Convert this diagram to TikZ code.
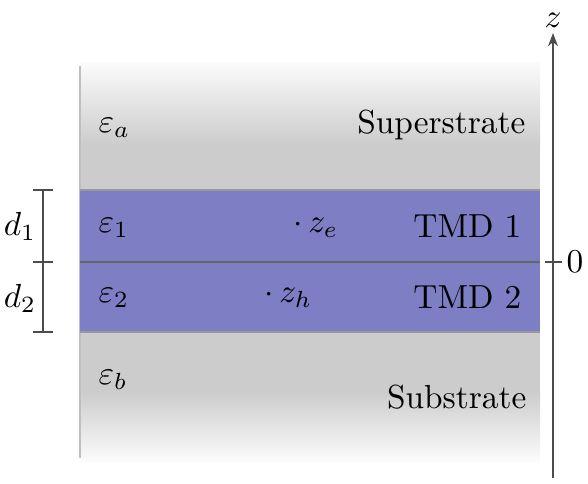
\documentclass[tikz,border=0pt]{standalone}
\usetikzlibrary{arrows.meta}
\definecolor{tmd}{RGB}{126,126,196}
\definecolor{bg}{RGB}{204,204,204}
\tikzset{
  lbl/.style={inner sep=0pt,font=\normalsize},
  edge/.style={draw=black!40,line width=0.4pt},
  dimline/.style={draw=black!70,line width=0.4pt},
}
\begin{document}
\begin{tikzpicture}[x=0.3pt,y=-0.3pt]
\useasboundingbox (0,0) rectangle (588,483);
% gray superstrate / substrate
\shade[top color=white!92!bg, bottom color=bg] (80,62) rectangle (540,145);
\fill[bg] (80,144) rectangle (540,191);
\fill[bg] (80,331) rectangle (540,392);
\shade[top color=bg, bottom color=white!94!bg] (80,391) rectangle (540,462);
\draw[edge,draw=black!25] (80,66) -- (80,458);
% TMD layers
\fill[tmd] (80,190) rectangle (540,332);
\draw[edge] (80,190) -- (540,190);
\draw[edge] (80,332) -- (540,332);
\draw[draw=black!60,line width=0.5pt] (80,262) -- (540,262);
% z axis
\coordinate (zb) at (553,478);
\coordinate (zt) at (553,33);
\draw[dimline,-{Stealth[length=4pt,width=3pt]}] (zb) -- (zt);
\node[lbl] (z) at (553,20) {$z$};
\coordinate (t0a) at (545,262);
\coordinate (t0b) at (562,262);
\draw[dimline] (t0a) -- (t0b);
\node[lbl,anchor=west] (zero) at (566,262) {$0$};
% thickness markers
\coordinate (d0) at (43,190);
\coordinate (dm) at (43,262);
\coordinate (d3) at (43,332);
\draw[dimline] (d0) -- (d3);
\draw[dimline] (33,190) -- (53,190);
\draw[dimline] (33,262) -- (53,262);
\draw[dimline] (33,332) -- (53,332);
\node[lbl] (d1) at (20,226) {$d_1$};
\node[lbl] (d2) at (20,298) {$d_2$};
% labels
\node[lbl,anchor=west] (ea) at (98,128) {$\varepsilon_a$};
\node[lbl,anchor=west] (e1) at (98,228) {$\varepsilon_1$};
\node[lbl,anchor=west] (e2) at (98,298) {$\varepsilon_2$};
\node[lbl,anchor=west] (eb) at (98,380) {$\varepsilon_b$};
\node[lbl,anchor=east] (sup) at (526,125) {Superstrate};
\node[lbl,anchor=east] (t1) at (522,226) {TMD 1};
\node[lbl,anchor=east] (t2) at (522,297) {TMD 2};
\node[lbl,anchor=east] (sub) at (527,397) {Substrate};
\node[lbl,anchor=west] (ze) at (293,228) {$\cdot\,z_e$};
\node[lbl,anchor=west] (zh) at (264,298) {$\cdot\,z_h$};
\end{tikzpicture}
\end{document}
